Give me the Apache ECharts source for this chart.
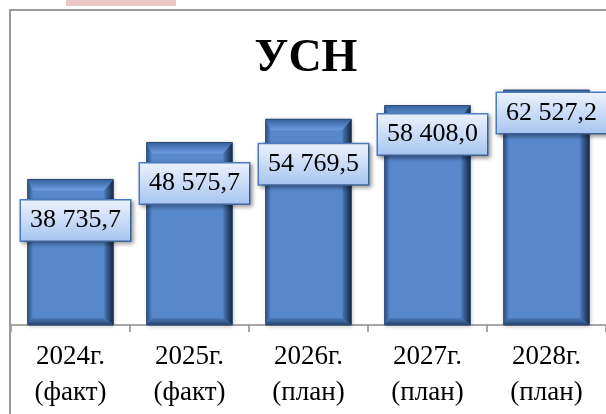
<!DOCTYPE html>
<html>
<head>
<meta charset="utf-8">
<script src="https://cdn.jsdelivr.net/npm/echarts@6/dist/echarts.min.js"></script>
<style>
html,body{margin:0;padding:0;background:#fff;}
#chart{width:606px;height:414px;}
</style>
</head>
<body>
<div id="chart"></div>
<script>
var titleText = 'УСН';
var categories = ['2024г.\n(факт)', '2025г.\n(факт)', '2026г.\n(план)', '2027г.\n(план)', '2028г.\n(план)'];
var values = [38735.7, 48575.7, 54769.5, 58408.0, 62527.2];

var SERIF = "'Liberation Serif','Times New Roman',serif";
var labelDy = [21, 21, 25, 9, 3];

function fmt(v) {
  var parts = v.toFixed(1).split('.');
  var intPart = parts[0].replace(/\B(?=(\d{3})+(?!\d))/g, ' ');
  return intPart + ',' + parts[1];
}

var LG = echarts.graphic.LinearGradient;

function renderItem(params, api) {
  var xi = api.value(0), v = api.value(1);
  var top = api.coord([xi, v]);
  var bot = api.coord([xi, 0]);
  var w = api.size([1, 0])[0] * 0.72;
  var x0 = top[0] - w / 2, x1 = top[0] + w / 2, y0 = top[1], y1 = bot[1];
  var bt = 11, bb = 7, bl = 5, br = 9;
  return {
    type: 'group',
    children: [
      { type: 'rect', shape: { x: x0, y: y0, width: w, height: y1 - y0 },
        style: { fill: '#5888cc', shadowBlur: 4, shadowColor: 'rgba(0,0,0,0.3)', shadowOffsetX: 1, shadowOffsetY: 1 } },
      { type: 'polygon', shape: { points: [[x0, y0], [x1, y0], [x1 - br, y0 + bt], [x0 + bl, y0 + bt]] },
        style: { fill: new LG(0, 0, 0, 1, [{ offset: 0, color: '#34609c' }, { offset: 1, color: '#6d9ce0' }]) } },
      { type: 'polygon', shape: { points: [[x1, y0], [x1, y1], [x1 - br, y1 - bb], [x1 - br, y0 + bt]] },
        style: { fill: new LG(0, 0, 1, 0, [{ offset: 0, color: '#4a78b8' }, { offset: 1, color: '#16263f' }]) } },
      { type: 'polygon', shape: { points: [[x0, y0], [x0 + bl, y0 + bt], [x0 + bl, y1 - bb], [x0, y1]] },
        style: { fill: new LG(0, 0, 1, 0, [{ offset: 0, color: '#2f5383' }, { offset: 1, color: '#5080c2' }]) } },
      { type: 'polygon', shape: { points: [[x0, y1], [x0 + bl, y1 - bb], [x1 - br, y1 - bb], [x1, y1]] },
        style: { fill: new LG(0, 0, 0, 1, [{ offset: 0, color: '#4c7bbd' }, { offset: 1, color: '#27446e' }]) } },
      { type: 'rect', shape: { x: x0, y: y0, width: w, height: y1 - y0 },
        style: { fill: null, stroke: '#2b4a75', lineWidth: 1 } }
    ]
  };
}

var chart = echarts.init(document.getElementById('chart'), null, { renderer: 'canvas' });

var labelBg = new LG(0, 0, 0, 1, [{ offset: 0, color: '#edf3fd' }, { offset: 1, color: '#a6c4f0' }]);

chart.setOption({
  animation: false,
  backgroundColor: '#ffffff',
  grid: { left: 11, width: 598, top: 62, bottom: 89, containLabel: false },
  xAxis: {
    type: 'category',
    data: categories,
    axisLine: { lineStyle: { color: '#8a8a8a', width: 1.5 } },
    axisTick: { show: true, interval: 0, length: 7, lineStyle: { color: '#8a8a8a', width: 1.5 } },
    axisLabel: { color: '#000', fontFamily: SERIF, fontSize: 27, lineHeight: 36, margin: 14, interval: 0 }
  },
  yAxis: { type: 'value', min: 0, max: 70000, show: false, splitLine: { show: false } },
  graphic: [
    { type: 'rect', shape: { x: 66, y: 0, width: 110, height: 6 }, style: { fill: '#ebc6c6' }, z: 10 },
    { type: 'rect', shape: { x: 10, y: 10, width: 700, height: 500 }, style: { fill: null, stroke: '#9a9a9a', lineWidth: 2 }, z: 10 },
    { type: 'text', x: 306, y: 59, style: { text: titleText, font: "bold 46px 'Liberation Serif','Times New Roman',serif", fill: '#000', textAlign: 'center', textVerticalAlign: 'middle' }, z: 10 }
  ],
  series: [
    {
      type: 'custom',
      renderItem: renderItem,
      data: values.map(function (v, i) { return [i, v]; }),
      encode: { x: 0, y: 1 },
      z: 2
    },
    {
      type: 'bar',
      barWidth: '72%',
      itemStyle: { color: 'rgba(0,0,0,0)' },
      z: 3,
      data: values.map(function (v, i) {
        return { value: v, label: { offset: [5, labelDy[i]] } };
      }),
      label: {
        show: true,
        position: 'insideTop',
        distance: 0,
        formatter: function (p) { return fmt(p.value); },
        color: '#000',
        fontFamily: SERIF,
        fontSize: 26,
        lineHeight: 28,
        backgroundColor: labelBg,
        borderColor: '#4f81c7',
        borderWidth: 1.5,
        padding: [6, 9, 6, 9],
        shadowColor: 'rgba(0,0,0,0.35)',
        shadowBlur: 4,
        shadowOffsetX: 2,
        shadowOffsetY: 2
      }
    }
  ]
});
</script>
</body>
</html>
